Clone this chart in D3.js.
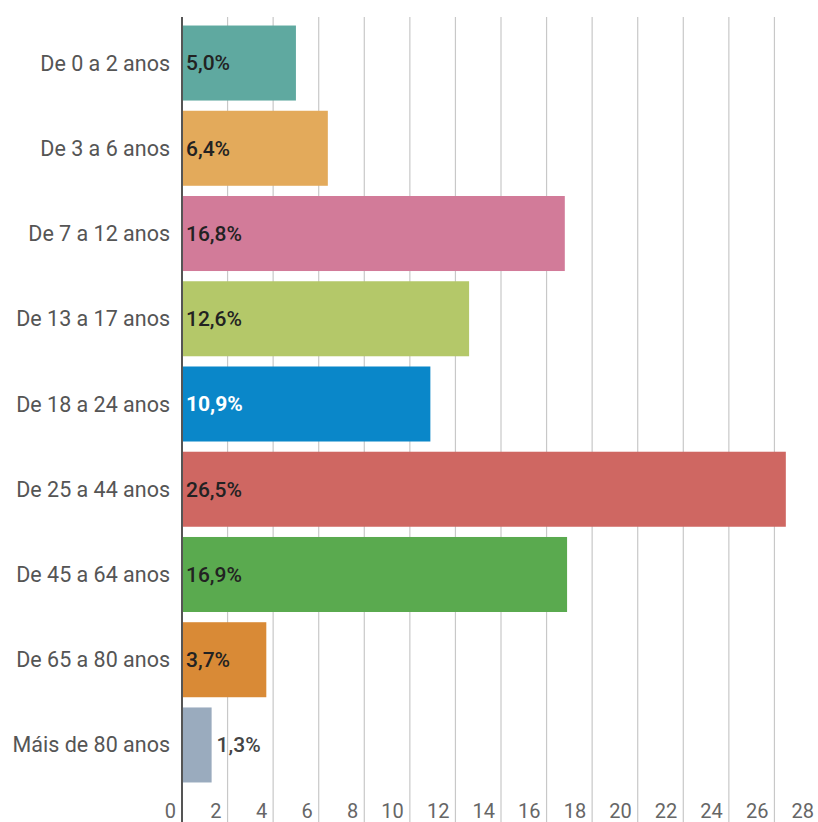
<!DOCTYPE html>
<html>
<head>
<meta charset="utf-8">
<script src="https://cdn.jsdelivr.net/npm/d3@7"></script>
<style>
	body { margin: 0; background: #fff; }
	svg { display: block; }
</style>
</head>
<body>
<svg id="svg1"></svg>
<script>
var categories = ["De 0 a 2 anos", "De 3 a 6 anos", "De 7 a 12 anos", "De 13 a 17 anos", "De 18 a 24 anos",
	"De 25 a 44 anos", "De 45 a 64 anos", "De 65 a 80 anos", "Máis de 80 anos"];
var values = [5.0, 6.4, 16.8, 12.6, 10.9, 26.5, 16.9, 3.7, 1.3];
var value_labels = ["5,0%", "6,4%", "16,8%", "12,6%", "10,9%", "26,5%", "16,9%", "3,7%", "1,3%"];
var bar_colors = ["#5fa9a0", "#e3aa5b", "#d27b99", "#b4c869", "#0a87c9", "#cf6762", "#5aaa4f", "#d98a36", "#9aabbe"];
var tick_values = [0, 2, 4, 6, 8, 10, 12, 14, 16, 18, 20, 22, 24, 26, 28];

var draw_chart = function()
{
	var width = 818,
		height = 822;

	var data = categories.map(function(c, i) {
		return {key: c, value: values[i], label: value_labels[i], color: bar_colors[i]};
	});

	var svg = d3.select("#svg1")
		.attr("width", width)
		.attr("height", height)
		.style("font-family", "Roboto");

	var x = d3.scaleLinear()
		.domain([0, 28])
		.range([182, 820]);

	var y = d3.scaleBand()
		.domain(categories)
		.range([17, 791])
		.paddingInner(0.12)
		.paddingOuter(0.1);

	// grid lines
	svg.append("g")
		.selectAll("line")
		.data(tick_values.filter(function(t) { return t > 0; }))
		.enter().append("line")
		.attr("x1", function(d) { return x(d); })
		.attr("x2", function(d) { return x(d); })
		.attr("y1", 17)
		.attr("y2", height)
		.attr("stroke", "#c8c8c8")
		.attr("stroke-width", 1.2);

	// tick labels
	svg.append("g")
		.selectAll("text")
		.data(tick_values)
		.enter().append("text")
		.attr("x", function(d) { return x(d) - 6; })
		.attr("y", 818)
		.attr("text-anchor", "end")
		.style("font-size", "20px")
		.style("fill", "#666")
		.text(function(d) { return d; });

	// bars
	svg.append("g")
		.selectAll("rect")
		.data(data)
		.enter().append("rect")
		.attr("x", x(0))
		.attr("y", function(d) { return y(d.key); })
		.attr("width", function(d) { return x(d.value) - x(0); })
		.attr("height", y.bandwidth())
		.attr("fill", function(d) { return d.color; });

	// category labels
	svg.append("g")
		.selectAll("text")
		.data(data)
		.enter().append("text")
		.attr("x", 170)
		.attr("y", function(d) { return y(d.key) + y.bandwidth() / 2; })
		.attr("dy", "0.35em")
		.attr("text-anchor", "end")
		.style("font-size", "21.5px")
		.style("fill", "#555")
		.text(function(d) { return d.key; });

	// value labels
	svg.append("g")
		.selectAll("text")
		.data(data)
		.enter().append("text")
		.attr("x", function(d) {
			// short bars get the label outside
			return d.value < 2 ? x(d.value) + 5 : x(0) + 4;
		})
		.attr("y", function(d) { return y(d.key) + y.bandwidth() / 2; })
		.attr("dy", "0.35em")
		.style("font-size", "21px")
		.style("font-weight", function(d) { return d.color == "#0a87c9" ? 700 : 500; })
		.style("fill", function(d) {
			if (d.color == "#0a87c9") return "#fff";
			return d.value < 2 ? "#444" : "#222";
		})
		.text(function(d) { return d.label; });

	// zero axis line
	svg.append("line")
		.attr("x1", x(0))
		.attr("x2", x(0))
		.attr("y1", 17)
		.attr("y2", height)
		.attr("stroke", "#555")
		.attr("stroke-width", 2);
}

draw_chart();
</script>
</body>
</html>
